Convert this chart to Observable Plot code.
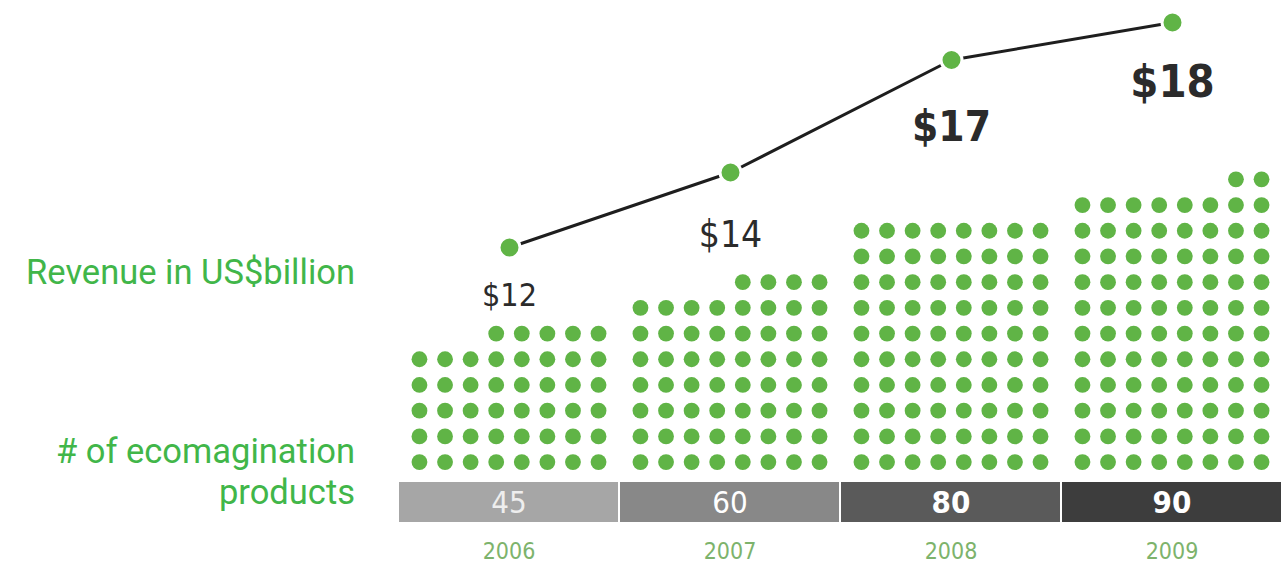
<!DOCTYPE html>
<html>
<head>
<meta charset="utf-8">
<script src="https://cdn.jsdelivr.net/npm/d3@7"></script>
<script src="https://cdn.jsdelivr.net/npm/@observablehq/plot@0.6"></script>
<style>
  html, body { margin: 0; padding: 0; background: #fff; }
  #wrap { position: relative; width: 1284px; height: 566px; overflow: hidden; }
  .abs { position: absolute; left: 0; }
  .side { position: absolute; right: 929px; text-align: right; font-family: Roboto, "Open Sans", sans-serif;
          font-size: 34.5px; line-height: 40px; height: 40px; color: #41b649; white-space: nowrap; }
</style>
</head>
<body>
<div id="wrap">
  <div class="side" style="top:252px">Revenue in US$billion</div>
  <div class="side" style="top:431px"># of ecomagination</div>
  <div class="side" style="top:472px">products</div>
</div>
<script>
// ---- data ----
const years = ["2006", "2007", "2008", "2009"];
const revenue = [12, 14, 17, 18];
const revenueLabels = ["$12", "$14", "$17", "$18"];
const products = [45, 60, 80, 90];

// ---- tables built from the data ----
const revTable = years.map((year, i) => ({year, value: revenue[i], label: revenueLabels[i]}));
const prodTable = years.map((year, i) => ({year, count: products[i]}));

// unit dots: 8 per row, partial top row aligned to the right
const perRow = 8;
const dotTable = [];
years.forEach((year, i) => {
  const n = products[i];
  const full = Math.floor(n / perRow);
  const rem = n % perRow;
  for (let k = 0; k < n; k++) {
    const row = Math.floor(k / perRow);
    const c = k % perRow;
    const col = row < full ? c : perRow - rem + c;
    dotTable.push({year, row, col});
  }
});

const green = "#60b446";
const font = "'DejaVu Sans Condensed', 'DejaVu Sans', sans-serif";
const wrap = document.getElementById("wrap");

// ---- chart 1: unit dots ----
const dots = Plot.plot({
  width: 1284, height: 477,
  marginLeft: 397, marginRight: 1, marginTop: 166, marginBottom: 0,
  style: {background: "transparent", fontFamily: font},
  fx: {domain: years, paddingInner: 0.009, paddingOuter: 0, axis: null, label: null},
  x: {domain: [-0.78, 7.78], axis: null},
  y: {domain: [-0.6, 11.5], axis: null},
  marks: [
    Plot.dot(dotTable, {fx: "year", x: "col", y: "row", r: 7.9, fill: green})
  ]
});
dots.classList.add("abs");
dots.style.top = "0px";
wrap.appendChild(dots);

// ---- chart 2: revenue line ----
const labelStyle = [
  {size: 32, weight: 400, dy: 48},
  {size: 37, weight: 400, dy: 63},
  {size: 42, weight: 700, dy: 68},
  {size: 45, weight: 700, dy: 60}
];
const line = Plot.plot({
  width: 1284, height: 477,
  marginLeft: 397, marginRight: 1, marginTop: 22, marginBottom: 230,
  style: {background: "transparent", fontFamily: font, overflow: "visible"},
  x: {type: "point", domain: years, padding: 0.5, axis: null},
  y: {domain: [12, 18], axis: null},
  marks: [
    Plot.line(revTable, {x: "year", y: "value", stroke: "#1e1e1e", strokeWidth: 3}),
    Plot.dot(revTable, {x: "year", y: "value", r: 10.5, fill: green, stroke: "white", strokeWidth: 3}),
    ...revTable.map((d, i) => Plot.text([d], {
      x: "year", y: "value", text: "label",
      fontSize: labelStyle[i].size, fontWeight: labelStyle[i].weight,
      dy: labelStyle[i].dy, fill: "#2b2b2b"
    }))
  ]
});
line.classList.add("abs");
line.style.top = "0px";
wrap.appendChild(line);

// ---- chart 3: count band + year axis ----
const countStyle = [
  {fill: "#eeeeee", weight: 400},
  {fill: "#ffffff", weight: 400},
  {fill: "#ffffff", weight: 600},
  {fill: "#ffffff", weight: 700}
];
const band = Plot.plot({
  width: 1284, height: 84,
  marginLeft: 397, marginRight: 1, marginTop: 0, marginBottom: 44,
  style: {background: "transparent", fontFamily: font},
  x: {domain: years, paddingInner: 0.009, paddingOuter: 0, axis: null},
  color: {domain: years, range: ["#a6a6a6", "#888888", "#5a5a5a", "#3d3d3d"]},
  marks: [
    Plot.cell(prodTable, {x: "year", fill: "year"}),
    ...prodTable.map((d, i) => Plot.text([d], {
      x: "year", text: d => String(d.count), frameAnchor: "middle", dy: 1,
      fontSize: 31, fontWeight: countStyle[i].weight, fill: countStyle[i].fill
    })),
    Plot.axisX({tickSize: 0, tickPadding: 20, fontSize: 23, color: "#7db36c", label: null})
  ]
});
band.classList.add("abs");
band.style.top = "482px";
wrap.appendChild(band);
</script>
</body>
</html>
